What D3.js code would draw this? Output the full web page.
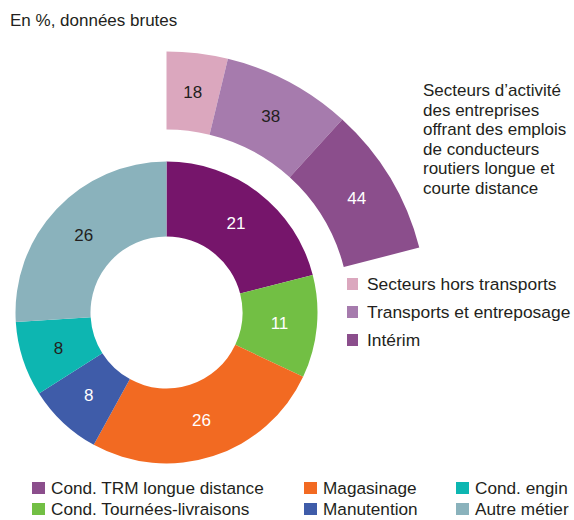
<!DOCTYPE html>
<html>
<head>
<meta charset="utf-8">
<script src="https://cdn.jsdelivr.net/npm/d3@7"></script>
<style>
  body { margin: 0; background: #fff; }
  svg { font-family: "Liberation Sans", Arial, sans-serif; }
</style>
</head>
<body>
<svg id="chart" width="574" height="520"></svg>
<script>
// inner ring : métiers
const jobs = ['Cond. TRM longue distance', 'Cond. Tournées-livraisons', 'Magasinage', 'Manutention', 'Cond. engin', 'Autre métier'];
const jobValues = [21, 11, 26, 8, 8, 26];
const jobColors = ['#76156b', '#72bf44', '#f26a22', '#3f5ca9', '#0db6b1', '#8ab2bc'];
const jobTextColors = ['#fff', '#fff', '#fff', '#fff', '#231f20', '#231f20'];

// outer arc : secteurs (split of the 21 %)
const sectors = ['Secteurs hors transports', 'Transports et entreposage', 'Intérim'];
const sectorValues = [18, 38, 44];
const sectorColors = ['#dba7be', '#a67bad', '#8b4e8c'];
const sectorTextColors = ['#231f20', '#231f20', '#fff'];

const title = 'En %, données brutes';
const sideNote = ['Secteurs d\u2019activité', 'des entreprises', 'offrant des emplois', 'de conducteurs', 'routiers longue et', 'courte distance'];

const svg = d3.select('#chart');
const cx = 166.5, cy = 312.5;
const g = svg.append('g').attr('transform', 'translate(' + cx + ',' + cy + ')');

svg.append('text')
  .attr('x', 10).attr('y', 26)
  .style('font-size', '17px').attr('fill', '#231f20')
  .text(title);

// donut
const pie = d3.pie().sort(null).value(d => d);
const jobArcs = pie(jobValues);
const arc = d3.arc().innerRadius(76).outerRadius(151);

g.selectAll('path.job')
  .data(jobArcs)
  .enter().append('path')
  .attr('class', 'job')
  .attr('d', arc)
  .attr('fill', (d, i) => jobColors[i]);

g.selectAll('text.job')
  .data(jobArcs)
  .enter().append('text')
  .attr('class', 'job')
  .attr('transform', d => 'translate(' + arc.centroid(d) + ')')
  .attr('dy', '0.35em')
  .style('text-anchor', 'middle')
  .style('font-size', '17px')
  .attr('fill', (d, i) => jobTextColors[i])
  .text(d => d.data);

// outer arc spans the first slice
const first = jobArcs[0];
const sectorPie = d3.pie().sort(null).value(d => d)
  .startAngle(first.startAngle).endAngle(first.endAngle);
const sectorArcs = sectorPie(sectorValues);
const outerArc = d3.arc().innerRadius(183).outerRadius(261);

g.selectAll('path.sector')
  .data(sectorArcs)
  .enter().append('path')
  .attr('class', 'sector')
  .attr('d', outerArc)
  .attr('fill', (d, i) => sectorColors[i]);

g.selectAll('text.sector')
  .data(sectorArcs)
  .enter().append('text')
  .attr('class', 'sector')
  .attr('transform', d => 'translate(' + outerArc.centroid(d) + ')')
  .attr('dy', '0.35em')
  .style('text-anchor', 'middle')
  .style('font-size', '17px')
  .attr('fill', (d, i) => sectorTextColors[i])
  .text(d => d.data);

// side note
svg.append('text')
  .attr('x', 423).attr('y', 96)
  .style('font-size', '17px').attr('fill', '#231f20')
  .selectAll('tspan')
  .data(sideNote)
  .enter().append('tspan')
  .attr('x', 423)
  .attr('dy', (d, i) => i === 0 ? 0 : 19.5)
  .text(d => d);

// sector legend
const sLeg = svg.selectAll('.slegend')
  .data(sectors)
  .enter().append('g')
  .attr('class', 'slegend')
  .attr('transform', (d, i) => 'translate(347,' + (290 + i * 28) + ')');
sLeg.append('rect')
  .attr('y', -12).attr('width', 11).attr('height', 12)
  .attr('fill', (d, i) => sectorColors[i]);
sLeg.append('text')
  .attr('x', 20)
  .style('font-size', '17.4px').attr('fill', '#231f20')
  .text(d => d);

// job legend, 3 columns x 2 rows
const colX = [32, 304, 456];
const jLeg = svg.selectAll('.jlegend')
  .data(jobs)
  .enter().append('g')
  .attr('class', 'jlegend')
  .attr('transform', (d, i) => 'translate(' + colX[Math.floor(i / 2)] + ',' + (494 + (i % 2) * 21) + ')');
jLeg.append('rect')
  .attr('y', -12).attr('width', 13).attr('height', 12)
  .attr('fill', (d, i) => i === 0 ? sectorColors[2] : jobColors[i]);
jLeg.append('text')
  .attr('x', 19)
  .style('font-size', '17.2px').attr('fill', '#231f20')
  .text(d => d);
</script>
</body>
</html>
